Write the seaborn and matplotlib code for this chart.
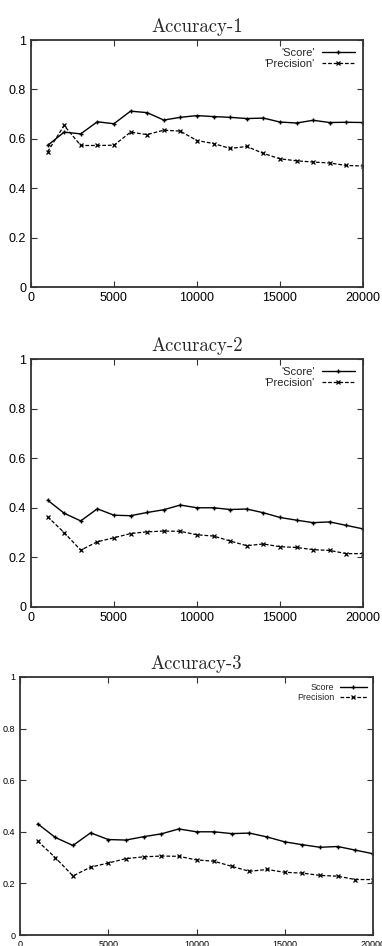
import numpy as np
import pandas as pd
import seaborn as sns
import matplotlib.pyplot as plt

steps = list(range(1000, 21000, 1000))

score_1 = [0.573, 0.627, 0.620, 0.669, 0.661, 0.712, 0.706, 0.676, 0.687, 0.694,
           0.690, 0.687, 0.682, 0.684, 0.668, 0.664, 0.675, 0.666, 0.667, 0.666]
precision_1 = [0.547, 0.654, 0.573, 0.573, 0.574, 0.627, 0.617, 0.635, 0.631, 0.593,
               0.581, 0.561, 0.569, 0.541, 0.519, 0.511, 0.506, 0.502, 0.492, 0.490]

score_2 = [0.431, 0.378, 0.347, 0.396, 0.370, 0.368, 0.381, 0.392, 0.411, 0.400,
           0.400, 0.393, 0.395, 0.380, 0.361, 0.350, 0.340, 0.343, 0.329, 0.315]
precision_2 = [0.364, 0.300, 0.229, 0.263, 0.279, 0.296, 0.303, 0.306, 0.305, 0.291,
               0.286, 0.266, 0.247, 0.254, 0.243, 0.240, 0.231, 0.228, 0.215, 0.215]

score_3 = list(score_2)
precision_3 = list(precision_2)

titles = ["Accuracy-1", "Accuracy-2", "Accuracy-3"]
legend_labels = [("'Score'", "'Precision'"), ("'Score'", "'Precision'"), ("Score", "Precision")]

sns.set_style("ticks")
plt.rcParams['font.family'] = ['Liberation Sans', 'DejaVu Sans']

fig = plt.figure(figsize=(3.82, 9.46), dpi=100)

# axes boxes in figure fractions: left, bottom, width, height
boxes = [
    [0.081, 0.6966, 0.869, 0.2611],
    [0.081, 0.3584, 0.869, 0.2621],
    [0.0524, 0.0116, 0.924, 0.2728],
]
tick_sizes = [9, 9, 6.5]
legend_sizes = [8, 8, 6.5]
all_data = [(score_1, precision_1), (score_2, precision_2), (score_3, precision_3)]

for i, box in enumerate(boxes):
    ax = fig.add_axes(box)
    score, precision = all_data[i]
    df = pd.DataFrame({"step": steps, "score": score, "precision": precision})
    # seaborn paints marker edges white by default, so force black for + and x
    sns.lineplot(data=df, x="step", y="score", ax=ax, color="black", linewidth=1.0,
                 marker="+", markersize=3.5, markeredgewidth=1.0, markeredgecolor="black",
                 label=legend_labels[i][0])
    sns.lineplot(data=df, x="step", y="precision", ax=ax, color="black", linewidth=0.9,
                 linestyle=(0, (3, 1.5)), marker="x", markersize=3.2, markeredgewidth=0.9,
                 markeredgecolor="black", label=legend_labels[i][1])
    ax.set_xlim(0, 20000)
    ax.set_ylim(0, 1)
    ax.set_xticks([0, 5000, 10000, 15000, 20000])
    ax.set_yticks([0, 0.2, 0.4, 0.6, 0.8, 1])
    ax.set_yticklabels(["0", "0.2", "0.4", "0.6", "0.8", "1"])
    ax.set_xlabel("")
    ax.set_ylabel("")
    ax.tick_params(direction="in", top=True, right=True, length=4, width=0.8,
                   labelsize=tick_sizes[i], colors="#333333", labelcolor="black")
    for sp in ax.spines.values():
        sp.set_linewidth(1.3)
        sp.set_color("#333333")
    ax.set_title(titles[i], fontfamily=["cmr10", "DejaVu Serif"], fontsize=13.5, pad=6)
    leg = ax.legend(loc="upper right", frameon=False, markerfirst=False, numpoints=1,
                    fontsize=legend_sizes[i], handlelength=3.0, borderaxespad=0.3,
                    labelspacing=0.1, handletextpad=0.6)
    for t in leg.get_texts():
        t.set_ha("right")

fig.savefig("out.png", dpi=100)
